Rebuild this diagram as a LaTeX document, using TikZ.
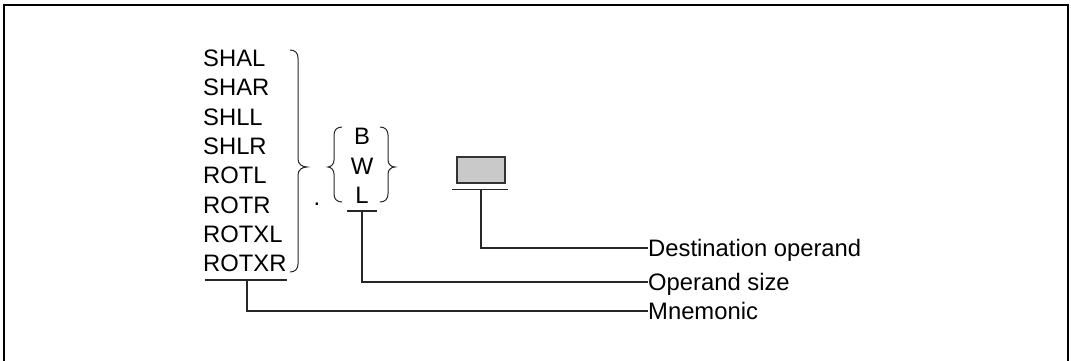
\documentclass[tikz,border=0pt]{standalone}
\usepackage{fontspec}
\setmainfont{Liberation Sans}
\begin{document}
\begin{tikzpicture}[x=1pt,y=-1pt,
  txt/.style={inner sep=0pt,font=\fontsize{23.8}{28}\selectfont,text height=17pt,text depth=0pt},
  ln/.style={line width=1.1pt,draw=black!85},
  brc/.style={line width=1pt,draw=black!85},
  frame/.style={line width=1.4pt,draw=black}]
\useasboundingbox (0,0) rectangle (1071,361);
% frame (bottom edge lies outside the picture)
\draw[frame] (4,362) -- (4,5) -- (1068,5) -- (1068,362);
% mnemonics
\foreach \t [count=\i from 0] in {SHAL,SHAR,SHLL,SHLR,ROTL,ROTR,ROTXL,ROTXR}{
  \node[txt,anchor=west] (m\i) at (203,{58+29.3*\i}) {\t};
}
% big brace
\draw[brc] (290,50) .. controls (295,50) and (298,53) .. (298,58) -- (298,159)
  .. controls (298,164) and (302,167) .. (307,167)
  .. controls (302,167) and (298,170) .. (298,175) -- (298,264)
  .. controls (298,269) and (295,272) .. (290,272);
% dot
\node[txt,anchor=base] (dot) at (317,205.5) {.};
% size letters
\node[txt,anchor=center] (sb) at (362,136) {B};
\node[txt,anchor=center] (sw) at (362,166) {W};
\node[txt,anchor=center] (sl) at (362,195) {L};
% small braces
\draw[brc] (342,127) .. controls (337,127) and (334,130) .. (334,135) -- (334,160)
  .. controls (334,164) and (331,167) .. (328,167)
  .. controls (331,167) and (334,170) .. (334,174) -- (334,194)
  .. controls (334,199) and (337,202) .. (342,202);
\draw[brc] (380,127) .. controls (385,127) and (388,130) .. (388,135) -- (388,160)
  .. controls (388,164) and (391,167) .. (395,167)
  .. controls (391,167) and (388,170) .. (388,174) -- (388,194)
  .. controls (388,199) and (385,202) .. (380,202);
% operand box
\node[draw=black!80,line width=1.4pt,fill=black!21,minimum width=48pt,minimum height=26pt,inner sep=0pt] (box) at (481,170) {};
% underlines
\coordinate (um) at (247,280);
\coordinate (us) at (362,211);
\coordinate (ud) at (481,189.5);
\draw[ln] (205,280) -- (287,280);
\draw[ln] (347,211) -- (377,211);
\draw[ln] (452,189.5) -- (508,189.5);
% labels
\node[txt,anchor=west] (ld) at (648,248) {Destination operand};
\node[txt,anchor=west] (ls) at (648,282) {Operand size};
\node[txt,anchor=west] (lm) at (648,311) {Mnemonic};
% connectors
\draw[ln] (ud) |- (ld.west);
\draw[ln] (us) |- (ls.west);
\draw[ln] (um) |- (lm.west);
\end{tikzpicture}
\end{document}
